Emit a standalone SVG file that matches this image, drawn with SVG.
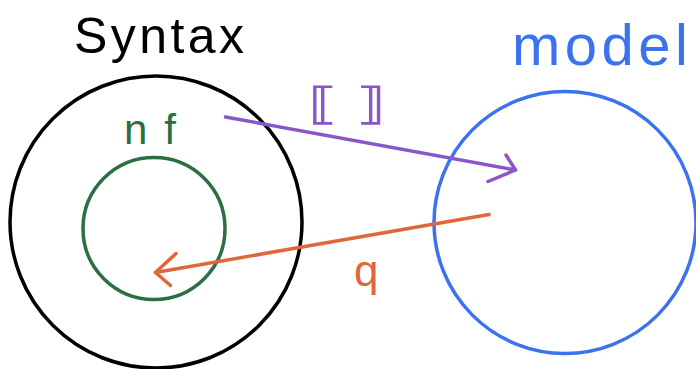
<svg xmlns="http://www.w3.org/2000/svg" width="696" height="369" viewBox="0 0 696 369">
<style>
  .ring { fill: none; stroke-width: 3.5; }
  .conn { fill: none; stroke-width: 3.5; stroke-linecap: round; stroke-linejoin: round; }
  .lbl { font-family: "Liberation Sans", "DejaVu Sans", sans-serif; }
</style>
<rect width="696" height="369" fill="#ffffff"/>
<g id="syntax">
  <circle class="ring" cx="156" cy="222" r="146" stroke="#000000"/>
  <text class="lbl" x="74" y="53" font-size="50" fill="#000000" textLength="170" lengthAdjust="spacing">Syntax</text>
</g>
<g id="nf">
  <circle class="ring" cx="154" cy="228.5" r="71" stroke="#2d6e42"/>
  <text class="lbl" x="124" y="144" font-size="42" fill="#2d6e42" textLength="52" lengthAdjust="spacing">nf</text>
</g>
<g id="model">
  <circle class="ring" cx="565" cy="222.5" r="131" stroke="#3a72ef"/>
  <text class="lbl" x="512" y="65" font-size="58" fill="#3a72ef" textLength="176" lengthAdjust="spacing">model</text>
</g>
<g id="connectors">
  <g id="semantics" stroke="#8a56c9">
    <path class="conn" d="M225.5,117 L515.5,170"/>
    <path class="conn" d="M506,155 L515.5,170 L488,181.5"/>
    <text x="308" y="119" font-family="DejaVu Sans, sans-serif" font-size="44" font-weight="bold" fill="#8a56c9" stroke="none" textLength="76" lengthAdjust="spacingAndGlyphs">⟦ ⟧</text>
  </g>
  <g id="quote" stroke="#e0663b">
    <path class="conn" d="M489,214.5 L155.5,272.5"/>
    <path class="conn" d="M176,253.5 L155.5,272.5 L170.5,285.5"/>
    <text class="lbl" x="354" y="286" font-size="44" fill="#e0663b" stroke="none">q</text>
  </g>
</g>
</svg>
